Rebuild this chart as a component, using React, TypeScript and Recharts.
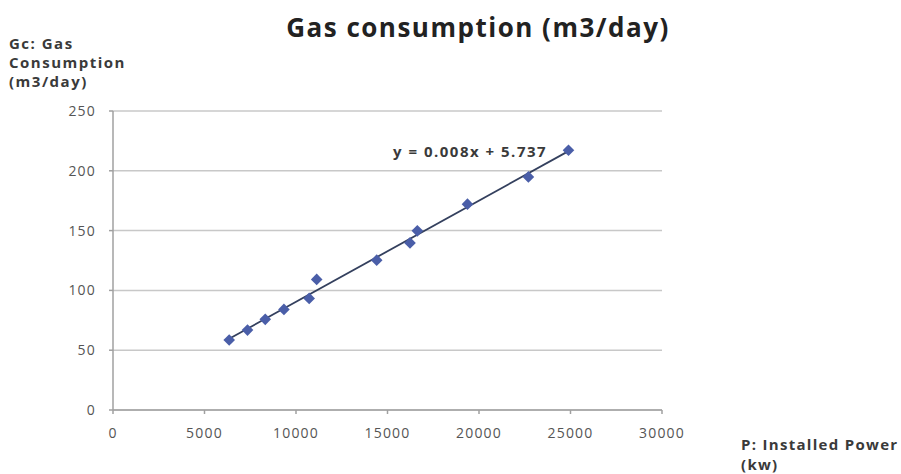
import React from "react";
import {
  ScatterChart,
  Scatter,
  XAxis,
  YAxis,
  CartesianGrid,
} from "recharts";

const installedPower = [6350, 7350, 8320, 9340, 10720, 11130, 14410, 16230, 16630, 19370, 22700, 24890];
const gasConsumption = [58.5, 66.8, 75.8, 84.1, 93.3, 109.2, 125.3, 139.7, 149.8, 172.1, 194.9, 217.2];
const xTicks = [0, 5000, 10000, 15000, 20000, 25000, 30000];
const yTicks = [0, 50, 100, 150, 200, 250];
const titleText = "Gas consumption (m3/day)";
const yLabelLines = ["Gc: Gas", "Consumption", "(m3/day)"];
const xLabelLines = ["P: Installed Power", "(kw)"];
const equationText = "y = 0.008x + 5.737";

const points = installedPower.map((x, i) => ({ x, y: gasConsumption[i] }));

// least squares trendline through the data
const n = points.length;
const mx = installedPower.reduce((a, b) => a + b, 0) / n;
const my = gasConsumption.reduce((a, b) => a + b, 0) / n;
let sxy = 0;
let sxx = 0;
points.forEach((p) => {
  sxy += (p.x - mx) * (p.y - my);
  sxx += (p.x - mx) * (p.x - mx);
});
const slope = sxy / sxx;
const intercept = my - slope * mx;
const xMin = Math.min(...installedPower);
const xMax = Math.max(...installedPower);
const trend = [
  { x: xMin, y: slope * xMin + intercept },
  { x: xMax, y: slope * xMax + intercept },
];

const FONT = "'Open Sans', 'DejaVu Sans', sans-serif";
const TEXT_COLOR = "#3a3a3a";

const DiamondMarker = (props: any) => {
  const { cx, cy } = props;
  if (cx == null || cy == null) return null;
  const r = 5.8;
  return (
    <path
      d={`M${cx},${cy - r}L${cx + r},${cy}L${cx},${cy + r}L${cx - r},${cy}Z`}
      fill="#4a5ea8"
    />
  );
};

const tickStyle = { fill: "#555", fontSize: 14, fontFamily: FONT, letterSpacing: 1.2 };

export default function App() {
  return (
    <div style={{ position: "absolute", left: 0, top: 0, width: 901, height: 474, background: "#fff", fontFamily: FONT }}>
      <ScatterChart
        width={901}
        height={474}
        margin={{ top: 111, right: 239, bottom: 0, left: 0 }}
      >
        <CartesianGrid vertical={false} stroke="#c8c8c8" strokeWidth={1.5} />
        <XAxis
          type="number"
          dataKey="x"
          domain={[0, 30000]}
          ticks={xTicks}
          interval={0}
          height={64}
          tickSize={4}
          tickMargin={14}
          stroke="#a0a0a0"
          strokeWidth={1.5}
          tick={tickStyle}
        />
        <YAxis
          type="number"
          dataKey="y"
          domain={[0, 250]}
          ticks={yTicks}
          interval={0}
          width={113}
          tickSize={4}
          tickMargin={13}
          stroke="#a0a0a0"
          strokeWidth={1.5}
          tick={tickStyle}
        />
        <Scatter
          data={trend}
          line={{ stroke: "#34405e", strokeWidth: 1.8 }}
          shape={() => null}
          isAnimationActive={false}
          legendType="none"
        />
        <Scatter
          data={points}
          fill="#4a5ea8"
          shape={<DiamondMarker />}
          isAnimationActive={false}
        />
      </ScatterChart>

      <div
        style={{
          position: "absolute",
          left: 278,
          top: 11,
          width: 400,
          textAlign: "center",
          fontSize: 26,
          fontWeight: 700,
          color: "#222",
          lineHeight: "32px",
          letterSpacing: 1.5,
          whiteSpace: "nowrap",
        }}
      >
        {titleText}
      </div>

      <div
        style={{
          position: "absolute",
          left: 9,
          top: 34,
          fontSize: 15,
          fontWeight: 700,
          color: TEXT_COLOR,
          lineHeight: "19px",
          letterSpacing: 1.5,
          whiteSpace: "nowrap",
        }}
      >
        {yLabelLines.map((l) => (
          <div key={l}>{l}</div>
        ))}
      </div>

      <div
        style={{
          position: "absolute",
          left: 741,
          top: 434,
          fontSize: 15,
          fontWeight: 700,
          color: TEXT_COLOR,
          lineHeight: "20px",
          letterSpacing: 1.3,
          whiteSpace: "nowrap",
        }}
      >
        {xLabelLines.map((l) => (
          <div key={l}>{l}</div>
        ))}
      </div>

      <div
        style={{
          position: "absolute",
          left: 393,
          top: 141,
          fontSize: 15,
          fontWeight: 700,
          color: TEXT_COLOR,
          lineHeight: "20px",
          letterSpacing: 1.5,
          whiteSpace: "nowrap",
        }}
      >
        {equationText}
      </div>
    </div>
  );
}
